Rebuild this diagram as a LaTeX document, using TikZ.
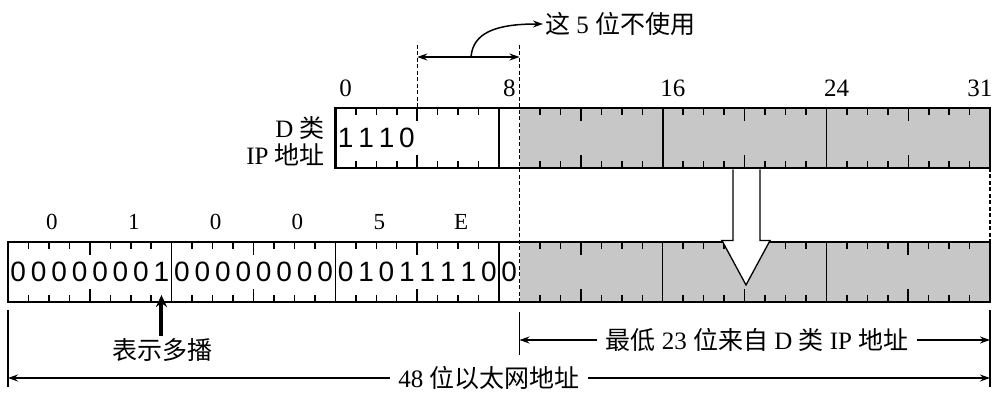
\documentclass[tikz,border=0pt]{standalone}
\usepackage{fontspec}
\setmainfont{Liberation Serif}
\newfontfamily\cjk{Noto Sans CJK SC}
\newfontfamily\bitfont{Liberation Sans}
\usetikzlibrary{arrows.meta,positioning,calc}

\def\bw{20.46}   % width of one bit
\def\tx{335.4}   % left end of the D-class address

\begin{document}
\begin{tikzpicture}[x=1pt,y=1pt,
    frame/.style={line width=2.8pt},
    divider/.style={line width=1.5pt},
    tickline/.style={line width=1.5pt},
    shade/.style={fill=black!22},
    guide/.style={line width=1.1pt, dash pattern=on 4pt off 2.5pt},
    bitnum/.style={font=\bitfont\fontsize{28}{28}\selectfont, inner sep=0pt},
    lbl/.style={font=\fontsize{25}{25}\selectfont, inner sep=2pt},
    dim/.style={line width=1.5pt, -{Stealth[length=10pt,width=7pt]}},
]
    \useasboundingbox (0,0) rectangle (999,401);

    % D-class IP address
    \fill[shade] ({\tx+9*\bw},233) rectangle (990,293);
    \foreach \i in {1,...,31}{
        \pgfmathtruncatemacro\m{mod(\i,8)}
        \pgfmathsetmacro\len{ifthenelse(\m==4,13,7)}
        \ifnum\m=0\relax\else\ifnum\i=9\relax\else
            \draw[tickline] ({\tx+\i*\bw},293) -- ++(0,-\len) ({\tx+\i*\bw},233) -- ++(0,\len);
        \fi\fi
    }
    \foreach \i in {8,16,24}
        \draw[divider] ({\tx+\i*\bw},233) -- ({\tx+\i*\bw},293);
    \draw[frame] (\tx,233) rectangle (990,293);

    \foreach \b [count=\k from 0] in {1,1,1,0}
        \node[bitnum] (d\k) at ({\tx+(\k+0.5)*\bw},263) {\b};
    \foreach \p in {0,8,16,24,31}
        \node[lbl] (pos\p) at ({\tx+(\p+0.5)*\bw},313) {\p};

    \node[lbl, anchor=east] (cls1) at (327,273) {D {\cjk 类}};
    \node[lbl, anchor=east] (cls2) at (327,246) {IP {\cjk 地址}};

    % Ethernet address
    \fill[shade] ({8+25*\bw},99) rectangle (990,159);
    \foreach \i in {1,...,47}{
        \pgfmathtruncatemacro\m{mod(\i,8)}
        \pgfmathsetmacro\len{ifthenelse(\m==4,13,7)}
        \ifnum\m=0\relax\else\ifnum\i=25\relax\else
            \draw[tickline] ({8+\i*\bw},159) -- ++(0,-\len) ({8+\i*\bw},99) -- ++(0,\len);
        \fi\fi
    }
    \foreach \i in {8,16,24,32,40}
        \draw[divider] ({8+\i*\bw},99) -- ({8+\i*\bw},159);
    \draw[frame] (8,99) rectangle (990,159);

    \foreach \b [count=\k from 0] in {0,0,0,0,0,0,0,1,0,0,0,0,0,0,0,0,0,1,0,1,1,1,1,0,0}
        \node[bitnum] (e\k) at ({8+(\k+0.5)*\bw},129) {\b};
    \foreach \h [count=\k from 0] in {0,1,0,0,5,E}
        \node[lbl, font=\fontsize{23}{23}\selectfont] (hex\k) at ({8+(4*\k+2)*\bw+3},179) {\h};

    % unused bits
    \draw[guide] ({\tx+4*\bw},356) -- ({\tx+4*\bw},293);
    \draw[guide] ({\tx+9*\bw},356) -- ({\tx+9*\bw},99);
    \draw[guide] (990,233) -- (990,159);
    \coordinate (u1) at ({\tx+4*\bw},344);
    \coordinate (u2) at ({\tx+9*\bw},344);
    \coordinate (u3) at (471,344);
    \draw[dim, {Stealth[length=10pt,width=7pt]}-{Stealth[length=10pt,width=7pt]}] (u1) -- (u2);
    \node[lbl, anchor=west] (unused) at (543,377) {{\cjk 这} 5 {\cjk 位不使用}};
    \draw[dim] (u3) .. controls (473,368) and (495,377) .. (unused.west);

    % mapping arrow
    \draw[line width=1.3pt, fill=white] (733,231.6) -- (733,160.4) -- (722,160.4) -- (746,116)
        -- (770,160.4) -- (760,160.4) -- (760,231.6);

    % multicast bit
    \node[lbl, font=\cjk\fontsize{25}{25}\selectfont] (mc) at (162,51) {表示多播};
    \coordinate (mbit) at ({8+7.5*\bw},106);
    \draw[line width=4pt, -{Stealth[length=12pt,width=11pt]}] (mbit |- mc.north) -- (mbit);

    % lengths
    \coordinate (lowL) at ({8+25*\bw},61);
    \coordinate (lowR) at (990,61);
    \coordinate (allL) at (8,23);
    \coordinate (allR) at (990,23);
    \draw[line width=1.1pt] (8,91) -- (allL) -- ++(0,-9);
    \draw[line width=1.1pt] (990,91) -- (allR) -- ++(0,-9);
    \draw[line width=1.1pt] ({8+25*\bw},89) -- ({8+25*\bw},46);

    \node[lbl, inner sep=8pt] (low) at (757,61) {{\cjk 最低} 23 {\cjk 位来自} D {\cjk 类} IP {\cjk 地址}};
    \draw[dim] (low.west) -- (lowL);
    \draw[dim] (low.east) -- (lowR);

    \node[lbl, inner sep=8pt] (total) at (489,23) {48 {\cjk 位以太网地址}};
    \draw[dim] (total.west) -- (allL);
    \draw[dim] (total.east) -- (allR);
\end{tikzpicture}
\end{document}
